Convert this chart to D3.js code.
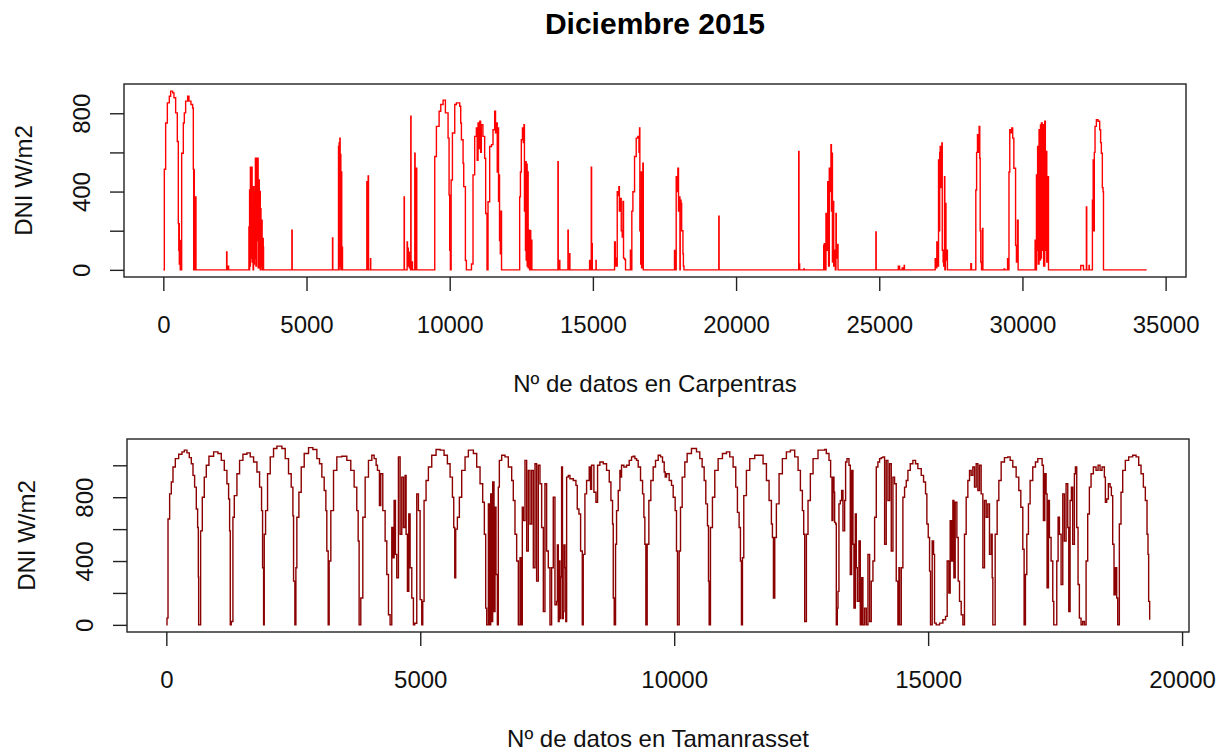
<html>
<head>
  <script src="https://d3js.org/d3.v7.min.js"></script>
  <meta charset="utf-8">
  <title>Diciembre 2015</title>
<style>
body {
  margin: 0;
  background: #fff;
}
svg {
  background: #fff;
  font-family: "Liberation Sans", Arial, sans-serif;
}
</style>
</head>
<body>
<script>
var width = 1223,
    height = 753;

// [n de dato, DNI W/m2]
var carpentras = [
  [0,0],[35,514],[81,750],[140,853],[209,887],[256,913],[326,904],[372,879],[430,802],[488,656],[523,236],[540,100],[550,236],[558,30],[570,150],[590,0],[616,0],
  [640,596],[698,750],[733,802],[779,862],[849,887],[895,862],[965,845],[1023,827],[1047,514],[1060,0],[1070,510],[1082,40],[1095,373],[1110,0],[1116,373],[1140,0],[1163,0],
  [2200,0],[2210,91],[2222,0],[2268,19],[2280,0],
  [2966,0],[2989,219],[3000,0],[3012,408],[3024,20],[3040,524],[3060,60],[3082,524],[3100,40],[3117,340],[3135,0],[3150,425],[3163,30],[3180,400],[3198,60],[3215,570],[3233,20],[3250,570],[3270,150],[3291,570],[3310,10],[3338,459],[3350,50],[3370,400],[3385,0],[3396,313],[3410,20],[3431,254],[3450,0],[3470,160],[3489,116],[3500,0],
  [4480,0],[4489,202],[4500,0],
  [5900,0],[5908,163],[5918,0],
  [6110,0],[6117,630],[6130,0],[6140,650],[6152,20],[6164,673],[6175,30],[6190,590],[6199,0],[6215,500],[6230,0],[6245,116],[6257,0],
  [7100,0],[7106,450],[7118,0],[7130,420],[7140,0],[7152,480],[7165,0],[7230,0],[7234,57],[7242,0],
  [8400,0],[8408,373],[8418,0],[8505,0],[8513,142],[8525,30],[8540,110],[8555,20],[8570,90],[8590,10],[8610,60],[8630,0],[8641,785],[8650,0],[8670,40],[8700,0],[8775,0],[8781,596],[8792,0],[8835,0],[8839,519],[8850,0],
  [9470,0],[9478,579],[9536,733],[9630,810],[9688,845],[9769,867],[9850,802],[9943,673],[9978,382],[10000,100],[10024,0],[10050,459],[10095,699],[10176,845],[10234,853],[10350,836],[10385,750],[10409,665],[10467,545],[10490,425],[10548,48],[10583,0],[10740,0],
  [10760,30],[10814,485],[10872,682],[10931,725],[10960,560],[10990,750],[11020,620],[11050,760],[11080,600],[11105,742],[11160,682],[11221,570],[11256,288],[11303,0],[11338,348],[11396,630],[11460,640],[11512,716],[11570,810],[11600,700],[11628,750],[11660,500],[11687,725],[11705,350],[11721,485],[11740,150],[11768,82],[11790,300],[11810,0],
  [12430,0],[12443,373],[12470,500],[12501,665],[12540,725],[12570,650],[12594,742],[12610,300],[12630,553],[12645,100],[12652,553],[12670,50],[12690,540],[12705,20],[12720,500],[12740,10],[12768,202],[12790,0],[12810,200],[12830,0],[12850,151],[12870,0],
  [13770,0],[13780,553],[13790,0],[13830,0],[13838,48],[13846,0],
  [14120,0],[14129,202],[14140,0],[14185,0],[14190,82],[14198,0],
  [14880,0],[14885,48],[14900,0],[14930,0],[14943,524],[14955,0],[14970,134],[14980,0],[15100,0],[15108,48],[15115,0],
  [15750,0],[15757,142],[15785,60],[15803,20],[15850,399],[15870,380],[15908,425],[15925,300],[15966,365],[15990,200],[16025,168],[16050,350],[16070,60],[16108,53],[16140,0],
  [16280,0],[16310,100],[16340,0],[16360,300],[16397,399],[16455,579],[16513,673],[16570,682],[16610,600],[16629,725],[16640,200],[16660,339],[16670,30],[16690,500],[16700,10],[16720,400],[16735,30],[16745,545],[16760,0],
  [17840,0],[17850,99],[17870,0],[17909,476],[17940,400],[17967,519],[17990,300],[18025,373],[18040,0],[18050,356],[18080,339],[18100,200],[18145,82],[18160,20],[18180,0],
  [19390,0],[19397,274],[19408,0],
  [22180,0],[22188,605],[22198,0],[22210,30],[22220,0],[22360,0],[22368,5],[22380,0],
  [23050,0],[23061,125],[23080,134],[23100,0],[23139,288],[23160,100],[23200,450],[23230,20],[23255,519],[23280,400],[23313,639],[23330,300],[23348,596],[23365,40],[23390,350],[23410,20],[23440,100],[23465,0],[23488,288],[23500,60],[23530,130],[23560,0],
  [24875,0],[24883,194],[24893,0],
  [25660,0],[25665,19],[25700,19],[25710,0],[25790,0],[25800,10],[25830,0],[25860,0],[25870,22],[25880,0],
  [26950,0],[26953,57],[26970,10],[27011,142],[27030,20],[27070,562],[27090,200],[27110,600],[27128,630],[27150,420],[27186,648],[27200,100],[27230,40],[27250,20],[27279,476],[27290,0],[27310,339],[27330,50],[27360,100],[27380,0],
  [28190,0],[28198,31],[28220,0],[28350,0],[28372,408],[28400,600],[28430,690],[28460,600],[28488,733],[28510,570],[28525,200],[28545,40],[28570,0],[28590,0],[28605,211],[28620,0],
  [29350,0],[29360,5],[29380,0],[29470,0],[29480,57],[29495,0],[29520,0],[29530,500],[29558,716],[29600,700],[29628,725],[29660,673],[29700,519],[29760,125],[29790,40],[29826,254],[29850,0],
  [30430,0],[30442,151],[30460,0],[30489,485],[30510,100],[30530,630],[30550,30],[30580,716],[30600,50],[30630,740],[30650,60],[30663,750],[30690,100],[30720,742],[30740,20],[30779,759],[30800,100],[30830,605],[30850,40],[30870,476],[30896,476],[30910,0],
  [32030,0],[32036,22],[32120,22],[32130,0],[32225,0],[32233,322],[32245,0],[32320,0],[32326,22],[32335,0],[32420,0],[32443,356],[32470,562],[32490,200],[32510,600],[32535,733],[32582,767],[32640,759],[32698,716],[32730,650],[32756,596],[32790,420],[32815,399],[32830,0],
  [34338,0]
];

var tamanrasset = [
  [0,0],[13,42],[33,663],[65,821],[98,895],[131,989],[177,1042],[243,1069],[308,1084],[354,1095],[406,1078],[452,1048],[492,1010],[525,937],[557,863],[590,726],[616,610],[630,300],[636,0],
  [656,0],[675,589],[708,800],[747,926],[787,1000],[839,1057],[931,1084],[1016,1074],[1082,1031],[1141,968],[1193,884],[1226,789],[1246,589],[1259,0],
  [1278,21],[1311,674],[1338,810],[1390,947],[1442,1031],[1508,1069],[1587,1078],[1652,1053],[1718,1021],[1784,958],[1836,863],[1875,716],[1895,358],[1915,0],
  [1928,568],[1954,716],[1993,947],[2046,1053],[2111,1105],[2177,1120],[2275,1105],[2341,1042],[2406,947],[2459,863],[2492,684],[2505,274],[2531,0],
  [2551,358],[2570,674],[2610,831],[2656,989],[2715,1074],[2800,1111],[2885,1099],[2964,1042],[3016,1010],[3062,926],[3108,842],[3141,716],[3160,463],[3187,0],
  [3206,400],[3239,716],[3292,968],[3357,1053],[3455,1057],[3554,1031],[3632,968],[3698,863],[3750,716],[3777,526],[3796,0],
  [3829,168],[3869,674],[3915,926],[3980,1031],[4046,1063],[4092,1042],[4131,1000],[4157,968],[4196,747],[4222,947],[4262,716],[4308,526],[4341,316],[4374,63],[4406,0],
  [4439,610],[4459,421],[4485,779],[4511,442],[4537,295],[4570,1053],[4603,568],[4636,926],[4669,610],[4701,937],[4721,568],[4747,210],[4774,695],[4800,358],[4833,168],[4865,0],[4891,10],[4931,821],[4964,716],[4997,158],[5029,0],
  [5049,147],[5075,779],[5114,905],[5160,989],[5226,1063],[5311,1099],[5390,1095],[5469,1063],[5534,1010],[5587,926],[5633,800],[5659,610],[5679,295],[5698,600],
  [5731,674],[5770,800],[5816,968],[5882,1053],[5947,1095],[6013,1095],[6046,1074],[6111,989],[6177,884],[6229,768],[6262,568],[6288,105],[6308,0],
  [6341,758],[6360,0],[6387,821],[6406,21],[6426,895],[6452,84],[6472,737],[6491,316],[6518,0],
  [6537,863],[6557,1031],[6603,1063],[6668,1053],[6734,989],[6800,905],[6832,779],[6865,568],[6898,400],[6931,0],[6950,0],[6964,421],[6983,0],[7009,737],
  [7029,653],[7062,1031],[7095,463],[7127,968],[7160,632],[7193,968],[7226,358],[7259,1010],[7291,274],[7324,1000],[7357,884],[7390,610],[7423,84],[7455,884],[7488,463],[7521,358],[7554,0],
  [7586,358],[7619,800],[7652,126],[7685,147],[7700,500],[7718,21],[7735,400],[7750,40],[7765,300],[7783,989],[7800,40],[7816,84],[7830,500],[7849,358],[7865,20],[7882,926],[7914,937],[7947,916],[8013,905],[8065,874],[8091,726],[8124,695],[8157,463],[8190,0],
  [8209,442],[8242,821],[8275,905],[8327,989],[8353,850],[8373,1000],[8419,831],[8459,768],[8491,1000],[8537,1021],[8603,1010],[8668,968],[8721,895],[8754,779],[8786,632],[8800,168],[8819,0],
  [8845,505],[8865,716],[8898,842],[8931,968],[8944,926],[8963,1000],[9009,989],[9062,1000],[9114,1031],[9160,1053],[9193,1057],[9226,1042],[9259,1031],[9291,989],[9337,905],[9377,821],[9403,674],[9422,505],[9442,0],
  [9468,505],[9501,779],[9540,905],[9586,989],[9632,1031],[9685,1063],[9731,1053],[9770,1021],[9803,958],[9823,926],[9849,947],[9901,905],[9947,874],[9980,800],[10019,716],[10045,463],[10065,0],
  [10098,463],[10124,737],[10157,926],[10209,1021],[10255,1074],[10340,1105],[10439,1084],[10504,1042],[10550,989],[10590,905],[10622,758],[10655,621],[10675,274],[10688,0],
  [10714,610],[10753,800],[10799,968],[10865,1042],[10950,1074],[11029,1084],[11094,1053],[11160,989],[11212,863],[11245,705],[11278,610],[11304,400],[11324,0],
  [11344,421],[11370,810],[11422,968],[11488,1042],[11586,1063],[11684,1063],[11750,1010],[11816,905],[11868,779],[11914,632],[11934,547],[11954,168],
  [11980,547],[12012,758],[12065,947],[12130,1042],[12209,1084],[12288,1095],[12373,1053],[12439,968],[12485,842],[12524,716],[12550,568],[12570,21],
  [12603,568],[12635,779],[12681,947],[12734,1042],[12832,1095],[12962,1099],[12995,1074],[13048,1031],[13080,926],[13107,653],[13126,926],[13146,831],[13159,642],[13179,632],[13192,0],
  [13212,105],[13225,210],[13244,758],[13271,779],[13297,842],[13323,589],[13356,779],[13375,1021],[13402,1042],[13441,1000],[13467,316],[13493,968],[13520,505],[13539,105],[13566,695],[13585,358],[13605,147],[13638,526],[13664,0],[13690,295],[13716,0],[13749,105],[13782,0],[13815,442],[13848,21],[13880,274],
  [13913,400],[13946,674],[13979,989],[14011,1021],[14044,1042],[14077,1048],[14110,1053],[14143,505],[14175,1031],[14208,779],[14241,1010],[14274,463],[14307,926],[14339,884],[14372,274],[14405,0],[14425,358],[14438,0],
  [14471,358],[14503,800],[14536,863],[14569,905],[14602,968],[14648,1010],[14700,1031],[14752,1010],[14798,979],[14864,937],[14910,895],[14949,821],[14975,632],[15002,547],[15028,337],[15047,0],
  [15080,526],[15107,442],[15126,11],[15159,0],[15225,11],[15290,32],[15343,53],[15375,400],[15408,200],[15434,653],[15461,400],[15487,779],[15507,295],[15533,768],[15566,547],[15592,274],[15618,147],[15651,63],[15684,0],
  [15716,568],[15749,800],[15782,905],[15815,968],[15847,937],[15880,989],[15913,863],[15946,1010],[15979,842],[16011,1000],[16044,821],[16077,358],[16110,779],[16143,674],[16175,758],[16208,442],[16241,568],[16261,295],[16274,0],
  [16320,568],[16359,779],[16392,905],[16438,1021],[16503,1048],[16569,1053],[16615,1031],[16667,989],[16733,926],[16785,842],[16825,737],[16864,474],[16890,0],
  [16916,316],[16943,568],[16975,758],[17008,905],[17060,989],[17113,1021],[17159,1042],[17205,1042],[17244,1000],[17270,653],[17297,947],[17323,821],[17342,232],[17369,779],[17388,547],[17421,400],[17454,147],[17474,0],[17506,0],
  [17533,400],[17559,674],[17585,568],[17618,253],[17651,821],[17683,526],[17716,884],[17749,610],[17769,84],[17795,779],[17821,863],[17847,505],[17880,947],[17900,989],[17926,610],[17952,253],[17978,42],[18011,0],[18044,21],[18077,0],[18110,400],
  [18142,695],[18175,863],[18208,947],[18254,989],[18306,968],[18346,1000],[18385,968],[18424,989],[18470,926],[18490,768],[18516,789],[18549,884],[18582,863],[18608,810],[18634,505],[18660,189],[18687,358],[18713,168],[18733,0],
  [18765,632],[18798,831],[18831,968],[18883,1031],[18949,1053],[19028,1063],[19094,1053],[19146,1000],[19192,947],[19238,863],[19277,779],[19310,568],[19329,442],[19342,147],[19362,32]
];

var carpXTicks = [0, 5000, 10000, 15000, 20000, 25000, 30000, 35000];
var tamXTicks = [0, 5000, 10000, 15000, 20000];
var carpYTicks = [0, 200, 400, 600, 800];
var tamYTicks = [0, 200, 400, 600, 800, 1000];
var yLabelTicks = [0, 400, 800];

var svg = d3.select('body').append('svg')
  .attr('width', width)
  .attr('height', height);

svg.append('text')
  .attr('x', 655)
  .attr('y', 34)
  .attr('text-anchor', 'middle')
  .style('font-size', '30px')
  .style('font-weight', 'bold')
  .text('Diciembre 2015');

function panel(data, box, xTicks, yTicks, color, xTitle) {
  // R style: 4% padding on both ends of the data range
  var xe = d3.extent(data, function (d) { return d[0]; });
  var ye = d3.extent(data, function (d) { return d[1]; });
  var xp = (xe[1] - xe[0]) * 0.04,
      yp = (ye[1] - ye[0]) * 0.04;
  var x = d3.scaleLinear().domain([xe[0] - xp, xe[1] + xp]).range([box.left, box.right]);
  var y = d3.scaleLinear().domain([ye[0] - yp, ye[1] + yp]).range([box.bottom, box.top]);

  // the logger repeats values, so the trace looks like stairs
  var line = d3.line()
    .curve(d3.curveStepAfter)
    .x(function (d) { return x(d[0]); })
    .y(function (d) { return y(d[1]); });

  svg.append('path')
    .datum(data)
    .attr('d', line)
    .attr('fill', 'none')
    .attr('stroke', color)
    .attr('stroke-width', 1.4);

  svg.append('rect')
    .attr('x', box.left)
    .attr('y', box.top)
    .attr('width', box.right - box.left)
    .attr('height', box.bottom - box.top)
    .attr('fill', 'none')
    .attr('stroke', '#222')
    .attr('stroke-width', 1.4);

  var gx = svg.append('g')
    .attr('transform', 'translate(0,' + box.bottom + ')')
    .call(d3.axisBottom(x).tickValues(xTicks).tickSize(14).tickFormat(d3.format('d')));
  gx.select('.domain').remove();
  gx.selectAll('line').attr('stroke', '#222').attr('stroke-width', 1.4);
  gx.selectAll('text')
    .attr('y', 56)
    .attr('dy', null)
    .attr('fill', '#111')
    .style('font-size', '24px')
    .style('font-family', '"Liberation Sans", Arial, sans-serif');

  var gy = svg.append('g')
    .attr('transform', 'translate(' + box.left + ',0)')
    .call(d3.axisLeft(y).tickValues(yTicks).tickSize(14)
      .tickFormat(function (d) { return yLabelTicks.indexOf(d) >= 0 ? d : ''; }));
  gy.select('.domain').remove();
  gy.selectAll('line').attr('stroke', '#222').attr('stroke-width', 1.4);
  gy.selectAll('text')
    .attr('transform', 'rotate(-90)')
    .attr('x', 0)
    .attr('y', -34)
    .attr('dy', null)
    .attr('text-anchor', 'middle')
    .attr('fill', '#111')
    .style('font-size', '24px')
    .style('font-family', '"Liberation Sans", Arial, sans-serif');

  svg.append('text')
    .attr('x', (box.left + box.right) / 2)
    .attr('y', box.bottom + 115)
    .attr('text-anchor', 'middle')
    .attr('fill', '#111')
    .style('font-size', '24px')
    .text(xTitle);

  svg.append('text')
    .attr('transform', 'translate(' + (box.left - 92) + ',' + ((box.top + box.bottom) / 2) + ') rotate(-90)')
    .attr('text-anchor', 'middle')
    .attr('fill', '#111')
    .style('font-size', '24px')
    .text('DNI W/m2');
}

panel(carpentras, {left: 124, right: 1186, top: 84, bottom: 277}, carpXTicks, carpYTicks, '#ff0000', 'Nº de datos en Carpentras');
panel(tamanrasset, {left: 127, right: 1189, top: 439, bottom: 632}, tamXTicks, tamYTicks, '#8b0000', 'Nº de datos en Tamanrasset');

</script>
</body>
</html>
